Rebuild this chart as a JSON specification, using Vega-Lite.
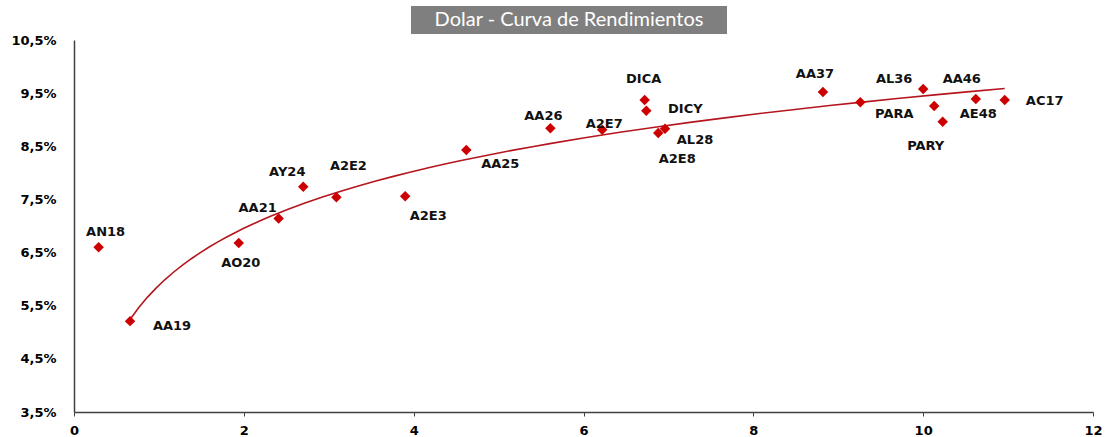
{
  "$schema": "https://vega.github.io/schema/vega-lite/v6.json",
  "padding": {"left": 10, "top": 6, "right": 0, "bottom": 0},
  "autosize": {"type": "pad"},
  "bounds": "full",
  "spacing": 0,
  "config": {
    "view": {"stroke": null},
    "font": "DejaVu Sans",
    "text": {"font": "DejaVu Sans", "fontWeight": "bold", "fontSize": 13, "color": "#111111"}
  },
  "datasets": {
    "bonos": [
      {"bono": "AN18", "plazo": 0.29, "tir": 6.60},
      {"bono": "AA19", "plazo": 0.66, "tir": 5.21},
      {"bono": "AO20", "plazo": 1.94, "tir": 6.68},
      {"bono": "AA21", "plazo": 2.41, "tir": 7.14},
      {"bono": "AY24", "plazo": 2.70, "tir": 7.74},
      {"bono": "A2E2", "plazo": 3.09, "tir": 7.54},
      {"bono": "A2E3", "plazo": 3.90, "tir": 7.56},
      {"bono": "AA25", "plazo": 4.62, "tir": 8.43},
      {"bono": "AA26", "plazo": 5.61, "tir": 8.84},
      {"bono": "A2E7", "plazo": 6.22, "tir": 8.81},
      {"bono": "DICA", "plazo": 6.72, "tir": 9.37},
      {"bono": "DICY", "plazo": 6.74, "tir": 9.17},
      {"bono": "A2E8", "plazo": 6.88, "tir": 8.75},
      {"bono": "AL28", "plazo": 6.96, "tir": 8.83},
      {"bono": "AA37", "plazo": 8.82, "tir": 9.52},
      {"bono": "PARA", "plazo": 9.26, "tir": 9.33},
      {"bono": "AL36", "plazo": 10.00, "tir": 9.58},
      {"bono": "AE48", "plazo": 10.13, "tir": 9.26},
      {"bono": "PARY", "plazo": 10.23, "tir": 8.96},
      {"bono": "AA46", "plazo": 10.62, "tir": 9.39},
      {"bono": "AC17", "plazo": 10.96, "tir": 9.37}
    ]
  },
  "vconcat": [
    {
      "hconcat": [
        {
          "width": 337, "height": 28,
          "data": {"values": [{}]},
          "mark": {"type": "text"},
          "encoding": {}
        },
        {
          "width": 316, "height": 28,
          "view": {"fill": "#7f7f7f", "stroke": null},
          "data": {"values": [{"t": "Dolar - Curva de Rendimientos"}]},
          "mark": {"type": "text", "font": "Lato", "fontWeight": "normal", "fontSize": 20, "letterSpacing": 1.3, "color": "#ffffff"},
          "encoding": {"text": {"field": "t"}}
        }
      ],
      "spacing": 0,
      "bounds": "flush"
    },
    {
      "width": 1019,
      "height": 372,
      "data": {"name": "bonos"},
      "encoding": {
        "x": {
          "field": "plazo", "type": "quantitative",
          "scale": {"domain": [0, 12], "nice": false, "zero": false},
          "axis": {
            "values": [0, 2, 4, 6, 8, 10, 12], "title": null, "grid": false, "format": "d",
            "domainColor": "#404040", "domainWidth": 1.5, "tickColor": "#404040", "tickSize": 4,
            "labelFont": "DejaVu Sans", "labelFontWeight": "bold", "labelFontSize": 13, "labelColor": "#000000",
            "labelPadding": 8, "labelFlush": false
          }
        },
        "y": {
          "field": "tir", "type": "quantitative",
          "scale": {"domain": [3.5, 10.5], "nice": false, "zero": false},
          "axis": {
            "values": [3.5, 4.5, 5.5, 6.5, 7.5, 8.5, 9.5, 10.5], "title": null, "grid": false,
            "domainColor": "#404040", "domainWidth": 1.5, "ticks": false,
            "labelFont": "DejaVu Sans", "labelFontWeight": "bold", "labelFontSize": 13, "labelColor": "#000000",
            "labelPadding": 18, "labelFlush": false,
            "labelExpr": "replace(format(datum.value, '.1f'), '.', ',') + '%'"
          }
        }
      },
      "layer": [
        {
          "transform": [
            {"filter": "datum.bono !== 'AN18'"},
            {"regression": "tir", "on": "plazo", "method": "log"}
          ],
          "mark": {"type": "line", "color": "#b5161e", "strokeWidth": 1.6}
        },
        {
          "mark": {"type": "point", "shape": "diamond", "filled": true, "color": "#cc0000", "size": 110, "opacity": 1}
        },
        {
          "encoding": {"text": {"field": "bono"}},
          "layer": [
            {"transform": [{"filter": "datum.bono === 'AN18'"}], "mark": {"type": "text", "dx": 7, "dy": -15}},
            {"transform": [{"filter": "datum.bono === 'AA19'"}], "mark": {"type": "text", "dx": 42, "dy": 5}},
            {"transform": [{"filter": "datum.bono === 'AO20'"}], "mark": {"type": "text", "dx": 2, "dy": 20}},
            {"transform": [{"filter": "datum.bono === 'AA21'"}], "mark": {"type": "text", "dx": -21, "dy": -11}},
            {"transform": [{"filter": "datum.bono === 'AY24'"}], "mark": {"type": "text", "dx": -16, "dy": -15}},
            {"transform": [{"filter": "datum.bono === 'A2E2'"}], "mark": {"type": "text", "dx": 12, "dy": -31}},
            {"transform": [{"filter": "datum.bono === 'A2E3'"}], "mark": {"type": "text", "dx": 23, "dy": 20}},
            {"transform": [{"filter": "datum.bono === 'AA25'"}], "mark": {"type": "text", "dx": 34, "dy": 14}},
            {"transform": [{"filter": "datum.bono === 'AA26'"}], "mark": {"type": "text", "dx": -7, "dy": -12}},
            {"transform": [{"filter": "datum.bono === 'A2E7'"}], "mark": {"type": "text", "dx": 2, "dy": -6}},
            {"transform": [{"filter": "datum.bono === 'DICA'"}], "mark": {"type": "text", "dx": -1, "dy": -21}},
            {"transform": [{"filter": "datum.bono === 'DICY'"}], "mark": {"type": "text", "dx": 39, "dy": -2}},
            {"transform": [{"filter": "datum.bono === 'AL28'"}], "mark": {"type": "text", "dx": 30, "dy": 11}},
            {"transform": [{"filter": "datum.bono === 'A2E8'"}], "mark": {"type": "text", "dx": 19, "dy": 26}},
            {"transform": [{"filter": "datum.bono === 'AA37'"}], "mark": {"type": "text", "dx": -8, "dy": -18}},
            {"transform": [{"filter": "datum.bono === 'PARA'"}], "mark": {"type": "text", "dx": 34, "dy": 12}},
            {"transform": [{"filter": "datum.bono === 'AL36'"}], "mark": {"type": "text", "dx": -29, "dy": -10}},
            {"transform": [{"filter": "datum.bono === 'AE48'"}], "mark": {"type": "text", "dx": 44, "dy": 8}},
            {"transform": [{"filter": "datum.bono === 'PARY'"}], "mark": {"type": "text", "dx": -17, "dy": 24}},
            {"transform": [{"filter": "datum.bono === 'AA46'"}], "mark": {"type": "text", "dx": -14, "dy": -20}},
            {"transform": [{"filter": "datum.bono === 'AC17'"}], "mark": {"type": "text", "dx": 40, "dy": 1}}
          ]
        }
      ]
    }
  ]
}
